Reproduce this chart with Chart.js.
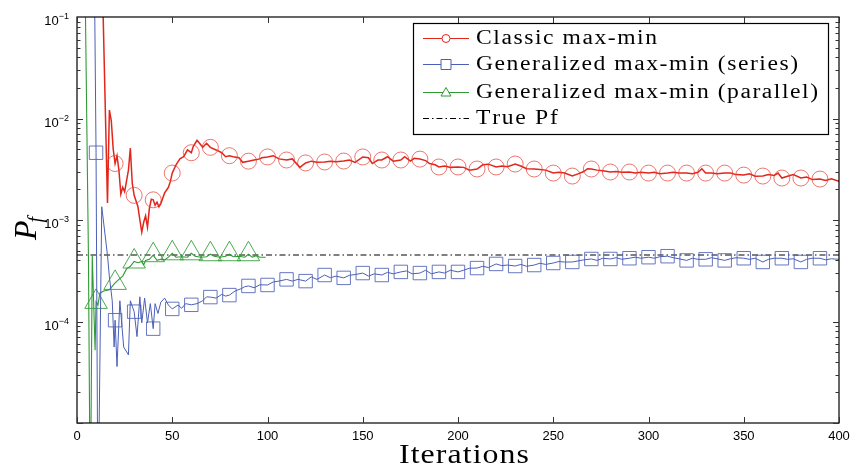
<!DOCTYPE html>
<html>
<head>
<meta charset="utf-8">
<script src="https://cdn.jsdelivr.net/npm/chart.js@4.4.1/dist/chart.umd.min.js"></script>
<style>
  body { margin: 0; background: #fff; }
  canvas { display: block; }
</style>
</head>
<body>
<canvas id="pfChart" width="856" height="466"></canvas>
<script>
// values (iteration, Pf)
var classicIter = [13, 16, 17, 18, 19, 20, 21, 22, 23, 24,
  25, 27, 28, 29, 30, 32, 33, 34, 35, 36,
  37, 38, 39, 40, 41, 42, 43, 44, 46, 48,
  49, 50, 52, 54, 56, 58, 60, 61, 63, 64,
  66, 68, 70, 73, 76, 78, 80, 82, 85, 87,
  90, 93, 96, 97, 100, 103, 106, 110, 113, 117,
  120, 123, 126, 130, 133, 136, 140, 143, 146, 150,
  153, 155, 158, 160, 163, 166, 170, 172, 175, 177,
  180, 183, 185, 188, 190, 193, 196, 200, 203, 206,
  210, 213, 216, 220, 223, 226, 230, 233, 236, 240,
  243, 246, 250, 253, 256, 260, 263, 266, 268, 270,
  273, 276, 280, 283, 286, 290, 293, 296, 300, 303,
  306, 310, 313, 316, 320, 323, 326, 328, 330, 333,
  336, 340, 343, 346, 350, 353, 356, 360, 363, 366,
  368, 370, 373, 376, 380, 383, 386, 390, 393, 396,
  400];
var classicPf = [0.4, 1.47e-3, 1.21e-2, 9.5e-3, 5.0e-3, 3.6e-3, 4.3e-3, 3.1e-3, 1.8e-3, 2.1e-3,
  1.9e-3, 3.1e-3, 5.1e-3, 2.3e-3, 1.75e-3, 1.35e-3, 1.0e-3, 7.6e-4, 9.5e-4, 1.1e-3,
  8.5e-4, 1.3e-3, 1.6e-3, 1.58e-3, 1.4e-3, 1.5e-3, 1.35e-3, 1.45e-3, 1.85e-3, 2.1e-3,
  2.4e-3, 2.9e-3, 3.5e-3, 4.0e-3, 4.2e-3, 4.9e-3, 4.6e-3, 5.3e-3, 6.1e-3, 5.8e-3,
  5.2e-3, 5.7e-3, 5.2e-3, 4.9e-3, 4.6e-3, 4.2e-3, 4.3e-3, 4.2e-3, 4.1e-3, 3.7e-3,
  3.8e-3, 3.9e-3, 4.0e-3, 4.1e-3, 4.18e-3, 4.3e-3, 4.0e-3, 3.9e-3, 4.0e-3, 3.3e-3,
  3.65e-3, 3.8e-3, 3.7e-3, 3.73e-3, 3.8e-3, 3.75e-3, 3.81e-3, 3.9e-3, 3.7e-3, 4.18e-3,
  4.1e-3, 3.6e-3, 3.9e-3, 3.9e-3, 4.2e-3, 3.8e-3, 3.9e-3, 4.2e-3, 3.8e-3, 4.05e-3,
  3.98e-3, 3.85e-3, 3.6e-3, 3.5e-3, 3.33e-3, 3.4e-3, 3.3e-3, 3.33e-3, 3.3e-3, 3.1e-3,
  3.18e-3, 3.5e-3, 3.55e-3, 3.33e-3, 3.4e-3, 3.35e-3, 3.56e-3, 3.4e-3, 3.2e-3, 3.18e-3,
  3.15e-3, 3.1e-3, 2.9e-3, 2.95e-3, 2.9e-3, 2.71e-3, 2.85e-3, 3.0e-3, 3.2e-3, 3.18e-3,
  3.1e-3, 3.05e-3, 2.97e-3, 3.0e-3, 2.95e-3, 2.97e-3, 2.9e-3, 2.95e-3, 2.9e-3, 2.95e-3,
  2.85e-3, 2.9e-3, 2.95e-3, 2.9e-3, 2.9e-3, 2.85e-3, 2.95e-3, 3.2e-3, 2.9e-3, 2.9e-3,
  2.85e-3, 2.9e-3, 2.9e-3, 2.8e-3, 2.77e-3, 2.85e-3, 2.7e-3, 2.71e-3, 2.8e-3, 2.75e-3,
  2.9e-3, 2.59e-3, 2.7e-3, 2.8e-3, 2.59e-3, 2.65e-3, 2.5e-3, 2.53e-3, 2.45e-3, 2.55e-3,
  2.4e-3];

var seriesIter = [9, 10, 11, 13, 16, 17, 18.5, 19.5, 20, 21,
  22.5, 24.5, 27, 28, 30, 31.5, 33, 34, 35.5, 37,
  38.5, 40, 41, 42.5, 44, 46, 48, 50, 53, 55,
  57, 60, 63, 66, 68, 70, 73, 76, 78, 80,
  83, 86, 88, 90, 93, 96, 100, 103, 106, 110,
  113, 116, 120, 123, 126, 130, 133, 136, 140, 143,
  146, 150, 153, 156, 160, 163, 166, 170, 173, 176,
  180, 183, 186, 190, 193, 196, 200, 203, 206, 210,
  213, 216, 220, 223, 226, 230, 233, 236, 240, 243,
  246, 250, 253, 256, 260, 263, 266, 270, 273, 276,
  280, 283, 286, 290, 293, 296, 300, 303, 306, 310,
  313, 316, 320, 323, 326, 330, 333, 336, 340, 343,
  346, 350, 353, 356, 360, 363, 366, 370, 373, 376,
  380, 383, 386, 390, 393, 396, 400];
var seriesPf = [0.5, 4.6e-3, 1e-6, 1.35e-3, 4.5e-4, 2.75e-4, 1.6e-4, 5.6e-5, 1.03e-4, 3.6e-5,
  1.6e-4, 5.6e-5, 4.7e-5, 1.6e-4, 1.25e-4, 7.1e-5, 1.75e-4, 9.7e-5, 1.7e-4, 9.7e-5,
  1.5e-4, 8.5e-5, 1.5e-4, 1.2e-4, 1.55e-4, 1.7e-4, 1.45e-4, 1.33e-4, 1.45e-4, 1.35e-4,
  1.5e-4, 1.46e-4, 1.5e-4, 1.6e-4, 1.75e-4, 1.74e-4, 1.7e-4, 1.85e-4, 1.78e-4, 1.82e-4,
  2.0e-4, 2.1e-4, 2.2e-4, 2.24e-4, 2.15e-4, 2.3e-4, 2.29e-4, 2.45e-4, 2.5e-4, 2.6e-4,
  2.5e-4, 2.6e-4, 2.5e-4, 2.75e-4, 2.6e-4, 2.87e-4, 2.7e-4, 2.8e-4, 2.69e-4, 2.85e-4,
  2.9e-4, 3.0e-4, 2.8e-4, 2.95e-4, 2.87e-4, 3.05e-4, 2.95e-4, 3.08e-4, 3.15e-4, 2.95e-4,
  3.0e-4, 3.2e-4, 2.95e-4, 3.08e-4, 3.0e-4, 3.2e-4, 3.08e-4, 3.2e-4, 3.35e-4, 3.36e-4,
  3.5e-4, 3.4e-4, 3.69e-4, 3.55e-4, 3.6e-4, 3.52e-4, 3.65e-4, 3.5e-4, 3.6e-4, 3.75e-4,
  3.65e-4, 3.77e-4, 3.9e-4, 3.85e-4, 3.86e-4, 3.95e-4, 4.05e-4, 4.13e-4, 4.0e-4, 4.2e-4,
  4.13e-4, 4.25e-4, 4.1e-4, 4.2e-4, 4.3e-4, 4.2e-4, 4.3e-4, 4.2e-4, 4.35e-4, 4.4e-4,
  4.25e-4, 4.15e-4, 4.0e-4, 4.2e-4, 4.1e-4, 4.1e-4, 4.25e-4, 4.15e-4, 4.0e-4, 4.15e-4,
  4.25e-4, 4.2e-4, 4.1e-4, 4.2e-4, 3.86e-4, 4.1e-4, 4.2e-4, 4.2e-4, 4.1e-4, 4.15e-4,
  3.86e-4, 4.1e-4, 4.2e-4, 4.2e-4, 4.05e-4, 4.15e-4, 4.1e-4];

var parallelIter = [4, 6, 7, 8, 9.5, 10, 11, 12, 14, 17,
  20, 22, 24, 26, 28, 30, 32, 34, 35, 36,
  38, 40, 42, 44, 46, 48, 50, 52, 55, 58,
  60, 62, 65, 68, 70, 72, 75, 78, 80, 82,
  85, 88, 90, 92, 94, 96, 99];
var parallelPf = [0.5, 4.5e-4, 1e-6, 4.5e-4, 5.2e-5, 1.56e-4, 1.45e-4, 1.9e-4, 2.0e-4, 2.05e-4,
  2.4e-4, 2.6e-4, 2.8e-4, 3.3e-4, 3.5e-4, 3.9e-4, 3.8e-4, 3.9e-4, 3.6e-4, 4.0e-4,
  4.1e-4, 4.5e-4, 4.0e-4, 4.1e-4, 4.05e-4, 4.3e-4, 4.7e-4, 4.3e-4, 4.35e-4, 4.3e-4,
  4.7e-4, 4.4e-4, 4.3e-4, 4.35e-4, 4.6e-4, 4.4e-4, 4.3e-4, 4.4e-4, 4.6e-4, 4.35e-4,
  4.4e-4, 4.3e-4, 4.6e-4, 4.3e-4, 4.45e-4, 4.3e-4, 4.3e-4];

var trueIter = [0, 400];
var truePf = [4.52e-4, 4.52e-4];

var seriesNames = ['Classic max-min', 'Generalized max-min (series)', 'Generalized max-min (parallel)', 'True Pf'];
var xTicks = [0, 50, 100, 150, 200, 250, 300, 350, 400];
var yTickExp = [-1, -2, -3, -4];

function pairs(xs, ys) {
    var out = [];
    for (var i = 0; i < xs.length; i++) {
        out.push({ x: xs[i], y: ys[i] });
    }
    return out;
}

// markers only every 10 iterations
function markerSize(r) {
    return function (c) {
        if (!c.raw) return 0;
        var it = c.raw.x;
        return (it % 10 === 0 && it > 0 && it < 400) ? r : 0;
    };
}

// draws text widened to a given width (the original uses wide serif letters)
function spacedText(c, text, x, y, width) {
    var natural = c.measureText(text).width;
    var k = Math.min(1.18, width / natural);
    var gap = text.length > 1 ? (width - natural * k) / (text.length - 1) : 0;
    for (var i = 0; i < text.length; i++) {
        c.save();
        c.translate(x, y);
        c.scale(k, 1);
        c.fillText(text[i], 0, 0);
        c.restore();
        x += c.measureText(text[i]).width * k + gap;
    }
}

var RED = '#e2261c', BLUE = '#4c5fb6', GREEN = '#2f9a34';

var axesPlugin = {
    id: 'axesPlugin',
    afterDatasetsDraw: function (chart) {
        var c = chart.ctx;
        var a = chart.chartArea;
        var xs = chart.scales.x, ys = chart.scales.y;
        c.save();

        // frame
        c.strokeStyle = '#000';
        c.lineWidth = 1.2;
        c.strokeRect(a.left, a.top, a.right - a.left, a.bottom - a.top);

        // inward ticks
        c.lineWidth = 1;
        c.strokeStyle = '#333';
        c.beginPath();
        xTicks.forEach(function (v) {
            var px = Math.round(xs.getPixelForValue(v)) + 0.5;
            c.moveTo(px, a.bottom); c.lineTo(px, a.bottom - 6);
            c.moveTo(px, a.top); c.lineTo(px, a.top + 6);
        });
        for (var e = -5; e <= -2; e++) {
            for (var m = 1; m <= 9; m++) {
                var v = m * Math.pow(10, e);
                var py = Math.round(ys.getPixelForValue(v)) + 0.5;
                var len = m === 1 ? 6 : 3.5;
                c.moveTo(a.left, py); c.lineTo(a.left + len, py);
                c.moveTo(a.right, py); c.lineTo(a.right - len, py);
            }
        }
        c.stroke();

        // x tick labels
        c.fillStyle = '#000';
        c.font = '13px "Liberation Sans", Arial, sans-serif';
        c.textAlign = 'center';
        c.textBaseline = 'middle';
        xTicks.forEach(function (v) {
            c.fillText(String(v), xs.getPixelForValue(v), a.bottom + 13);
        });

        // y tick labels 10^n
        c.textBaseline = 'alphabetic';
        yTickExp.forEach(function (n) {
            var py = ys.getPixelForValue(Math.pow(10, n));
            c.textAlign = 'right';
            c.font = '9px "Liberation Sans", Arial, sans-serif';
            var expText = '\u2212' + Math.abs(n);
            c.fillText(expText, 69, py + 2);
            var ew = c.measureText(expText).width;
            c.font = '13px "Liberation Sans", Arial, sans-serif';
            c.fillText('10', 69 - ew, py + 8);
        });

        // x title
        c.textAlign = 'left';
        c.font = '27px "Liberation Serif", "DejaVu Serif", serif';
        spacedText(c, 'Iterations', 399, 463, 130);

        // y title P_f, rotated
        c.save();
        c.translate(36, 240);
        c.rotate(-Math.PI / 2);
        c.font = 'italic 32px "Liberation Serif", "DejaVu Serif", serif';
        c.fillText('P', 0, 0);
        var pw = c.measureText('P').width;
        c.font = 'italic 20px "Liberation Serif", "DejaVu Serif", serif';
        c.fillText('f', pw - 2, 6);
        c.restore();

        // legend box
        var lx = 413, ly = 23, lw = 415, lh = 111;
        c.fillStyle = '#fff';
        c.fillRect(lx, ly, lw, lh);
        c.strokeStyle = '#000';
        c.lineWidth = 1.2;
        c.strokeRect(lx + 0.5, ly + 0.5, lw, lh);

        var rows = [38, 64, 92, 118];
        var widths = [181, 322, 342, 81];
        var colors = [RED, BLUE, GREEN, '#000'];
        for (var i = 0; i < 4; i++) {
            var ry = rows[i] + 0.5;
            c.strokeStyle = colors[i];
            c.lineWidth = 1;
            c.setLineDash(i === 3 ? [6, 3, 1.5, 3] : []);
            c.beginPath();
            c.moveTo(423, ry); c.lineTo(469, ry);
            c.stroke();
            c.setLineDash([]);
            c.beginPath();
            if (i === 0) {
                c.arc(446, ry, 4, 0, Math.PI * 2);
            } else if (i === 1) {
                c.rect(441, ry - 5, 10, 10);
            } else if (i === 2) {
                c.moveTo(446, ry - 5); c.lineTo(451, ry + 3.5); c.lineTo(441, ry + 3.5); c.closePath();
            }
            if (i < 3) {
                c.fillStyle = '#fff';
                c.fill();
                c.stroke();
            }
            c.fillStyle = '#000';
            c.font = '20px "Liberation Serif", "DejaVu Serif", serif';
            c.textBaseline = 'middle';
            spacedText(c, seriesNames[i], 476, rows[i] + 1, widths[i]);
        }
        c.restore();
    }
};

var ctx = document.getElementById('pfChart').getContext('2d');
var myChart = new Chart(ctx, {
    type: 'line',
    data: {
        datasets: [{
            label: seriesNames[0],
            data: pairs(classicIter, classicPf),
            borderColor: RED,
            borderWidth: 1.5,
            pointStyle: 'circle',
            pointRadius: markerSize(8),
            pointBorderColor: 'rgba(230, 60, 50, 0.7)',
            pointBackgroundColor: 'rgba(0,0,0,0)',
            pointBorderWidth: 1
        }, {
            label: seriesNames[1],
            data: pairs(seriesIter, seriesPf),
            borderColor: BLUE,
            borderWidth: 1,
            pointStyle: 'rect',
            pointRadius: markerSize(9.5),
            pointBorderColor: 'rgba(76, 95, 182, 0.85)',
            pointBackgroundColor: 'rgba(0,0,0,0)',
            pointBorderWidth: 1
        }, {
            label: seriesNames[2],
            data: pairs(parallelIter, parallelPf),
            borderColor: GREEN,
            borderWidth: 1.1,
            pointStyle: 'triangle',
            pointRadius: markerSize(13),
            pointBorderColor: 'rgba(47, 154, 52, 0.85)',
            pointBackgroundColor: 'rgba(0,0,0,0)',
            pointBorderWidth: 1
        }, {
            label: seriesNames[3],
            data: pairs(trueIter, truePf),
            borderColor: '#000',
            borderWidth: 1,
            borderDash: [6, 3, 1.5, 3],
            pointRadius: 0
        }]
    },
    options: {
        responsive: false,
        animation: false,
        devicePixelRatio: 1,
        events: [],
        layout: { padding: { left: 77, right: 17, top: 17, bottom: 43 } },
        elements: { line: { tension: 0, fill: false } },
        scales: {
            x: { type: 'linear', min: 0, max: 400, display: false },
            y: { type: 'logarithmic', min: 1e-5, max: 1e-1, display: false }
        },
        plugins: {
            legend: { display: false },
            tooltip: { enabled: false }
        }
    },
    plugins: [axesPlugin]
});
</script>
</body>
</html>
